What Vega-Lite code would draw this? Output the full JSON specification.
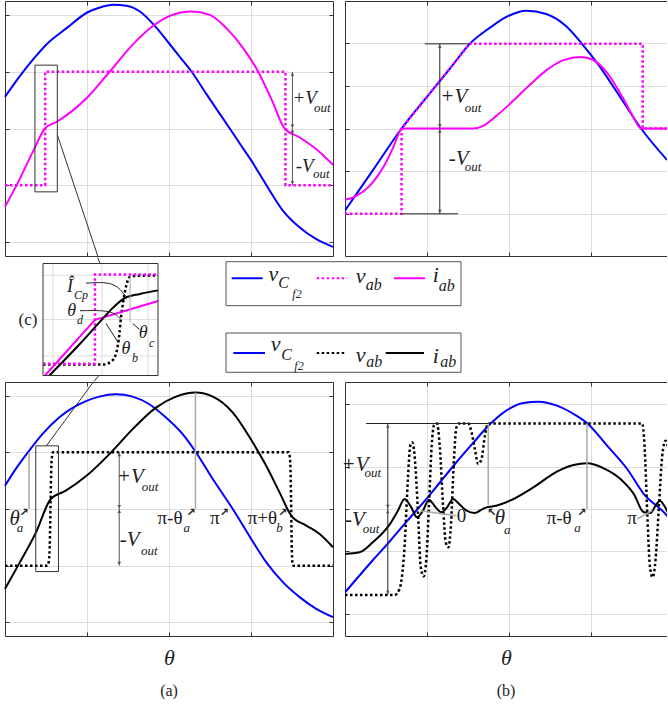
{
"$schema":"https://vega.github.io/schema/vega-lite/v6.json",
"padding":{"left":0,"top":0,"right":0,"bottom":0},
"background":"white",
"config":{
  "view":{"stroke":null},
  "axis":{"tickSize":-4,"domainColor":"#333333","tickColor":"#333333","gridColor":"#dddddd","domainWidth":1,"tickWidth":1,"labels":false},
  "title":{"font":"Liberation Serif","fontWeight":"normal","fontSize":17,"color":"#222222"}
},
"spacing":-1,
"vconcat":[
 {"hconcat":[
  {"width":328,"height":255,"data":{"name":"tl"},
   "encoding":{"x":{"field":"x","type":"quantitative","scale":{"domain":[0,4],"nice":false,"zero":false},"axis":null},
               "y":{"field":"y","type":"quantitative","scale":{"domain":[-2.25,2.25],"nice":false,"zero":false},"axis":null}},
   "layer":[
    {"transform":[{"filter":"datum.k=='vC'"}],"mark":{"type":"line","color":"#0000ff","strokeWidth":2,"interpolate":"monotone"},
     "encoding":{"order":{"value":null},
      "x":{"field":"x","type":"quantitative","scale":{"domain":[0,4],"nice":false,"zero":false},"axis":{"orient":"bottom","values":[1,2,3],"grid":true,"title":null}},
      "y":{"field":"y","type":"quantitative","scale":{"domain":[-2.25,2.25],"nice":false,"zero":false},"axis":{"orient":"left","values":[-2,-1,0,1,2],"grid":true,"title":null}}}},
    {"transform":[{"filter":"datum.k=='vab'"}],"mark":{"type":"line","color":"#ff00ff","strokeWidth":2.5,"strokeDash":[2.5,2.5],"interpolate":"linear"},
     "encoding":{"order":{"value":null},
      "x":{"field":"x","type":"quantitative","scale":{"domain":[0,4],"nice":false,"zero":false},"axis":{"orient":"top","values":[1,2,3],"grid":false,"title":null}},
      "y":{"field":"y","type":"quantitative","scale":{"domain":[-2.25,2.25],"nice":false,"zero":false},"axis":{"orient":"right","values":[-2,-1,0,1,2],"grid":false,"title":null}}}},
    {"transform":[{"filter":"datum.k=='iab'"}],"mark":{"type":"line","color":"#ff00ff","strokeWidth":2,"interpolate":"monotone"},"encoding":{"order":{"value":null}}},
    {"transform":[{"filter":"datum.k=='rd'"}],"mark":{"type":"rule","color":"#555555","strokeWidth":1},"encoding":{"x2":{"field":"x2"},"y2":{"field":"y2"}}},
    {"transform":[{"filter":"datum.k=='hu'"}],"mark":{"type":"point","shape":"triangle-up","filled":true,"size":14,"color":"#555555","opacity":1},"encoding":{}},
    {"transform":[{"filter":"datum.k=='hd'"}],"mark":{"type":"point","shape":"triangle-down","filled":true,"size":14,"color":"#555555","opacity":1},"encoding":{}},
    {"transform":[{"filter":"datum.k=='box'"}],"mark":{"type":"rect","fillOpacity":0,"stroke":"#333333","strokeWidth":1},"encoding":{"x2":{"field":"x2"},"y2":{"field":"y2"}}},
    {"transform":[{"filter":"datum.k=='cn'"}],"mark":{"type":"rule","color":"#333333","strokeWidth":1},"encoding":{"x2":{"field":"x2"},"y2":{"field":"y2"}}},
    {"transform":[{"filter":"datum.k=='big'"}],"mark":{"type":"text","font":"Liberation Serif","fontStyle":"italic","fontSize":19,"align":"center","baseline":"middle","color":"#222222"},"encoding":{"text":{"field":"t"}}},
    {"transform":[{"filter":"datum.k=='sub'"}],"mark":{"type":"text","font":"Liberation Serif","fontStyle":"italic","fontSize":13,"align":"center","baseline":"middle","color":"#222222"},"encoding":{"text":{"field":"t"}}}
   ],
   "resolve":{"axis":{"x":"independent","y":"independent"}}
  },
  {"width":322,"height":255,"data":{"name":"tr"},
   "encoding":{"x":{"field":"x","type":"quantitative","scale":{"domain":[0,3.927],"nice":false,"zero":false},"axis":null},
               "y":{"field":"y","type":"quantitative","scale":{"domain":[-3,3],"nice":false,"zero":false},"axis":null}},
   "layer":[
    {"transform":[{"filter":"datum.k=='vC'"}],"mark":{"type":"line","color":"#0000ff","strokeWidth":2,"interpolate":"monotone","clip":true},
     "encoding":{"order":{"value":null},
      "x":{"field":"x","type":"quantitative","scale":{"domain":[0,3.927],"nice":false,"zero":false},"axis":{"orient":"bottom","values":[1,2,3],"grid":true,"title":null}},
      "y":{"field":"y","type":"quantitative","scale":{"domain":[-3,3],"nice":false,"zero":false},"axis":{"orient":"left","values":[-2,-1,0,1,2],"grid":true,"title":null}}}},
    {"transform":[{"filter":"datum.k=='vab'"}],"mark":{"type":"line","color":"#ff00ff","strokeWidth":2.5,"strokeDash":[2.5,2.5],"interpolate":"linear","clip":true},
     "encoding":{"order":{"value":null},
      "x":{"field":"x","type":"quantitative","scale":{"domain":[0,3.927],"nice":false,"zero":false},"axis":{"orient":"top","values":[1,2,3],"grid":false,"title":null}}}},
    {"transform":[{"filter":"datum.k=='iab'"}],"mark":{"type":"line","color":"#ff00ff","strokeWidth":2,"interpolate":"monotone","clip":true},"encoding":{"order":{"value":null}}},
    {"transform":[{"filter":"datum.k=='rl'"}],"mark":{"type":"rule","color":"#222222","strokeWidth":1},"encoding":{"x2":{"field":"x2"},"y2":{"field":"y2"}}},
    {"transform":[{"filter":"datum.k=='hu'"}],"mark":{"type":"point","shape":"triangle-up","filled":true,"size":14,"color":"#555555","opacity":1},"encoding":{}},
    {"transform":[{"filter":"datum.k=='hd'"}],"mark":{"type":"point","shape":"triangle-down","filled":true,"size":14,"color":"#555555","opacity":1},"encoding":{}},
    {"transform":[{"filter":"datum.k=='big'"}],"mark":{"type":"text","font":"Liberation Serif","fontStyle":"italic","fontSize":21,"align":"center","baseline":"middle","color":"#222222"},"encoding":{"text":{"field":"t"}}},
    {"transform":[{"filter":"datum.k=='sub'"}],"mark":{"type":"text","font":"Liberation Serif","fontStyle":"italic","fontSize":13,"align":"center","baseline":"middle","color":"#222222"},"encoding":{"text":{"field":"t"}}}
   ],
   "resolve":{"axis":{"x":"independent","y":"independent"}}
  }
 ],"spacing":12,"bounds":"flush"},
 {"hconcat":[
  {"width":38,"height":125,"data":{"values":[{"t":"(c)"}]},"mark":{"type":"text","font":"Liberation Serif","fontSize":17,"dx":4,"color":"#222222"},"encoding":{"text":{"field":"t","type":"nominal"}}},
  {"width":115,"height":125,"data":{"name":"ins"},
   "encoding":{"x":{"field":"x","type":"quantitative","scale":{"domain":[0,1],"nice":false,"zero":false},"axis":null},
               "y":{"field":"y","type":"quantitative","scale":{"domain":[-1.116,1.116],"nice":false,"zero":false},"axis":null}},
   "layer":[
    {"transform":[{"filter":"datum.k=='grid'"}],"mark":{"type":"rule","color":"#dddddd","strokeWidth":1},"encoding":{"x2":{"field":"x2"},"y2":{"field":"y2"}}},
    {"transform":[{"filter":"datum.k=='bvab'"}],"mark":{"type":"line","color":"#000000","strokeWidth":2.5,"strokeDash":[2.5,2.5],"interpolate":"monotone"},"encoding":{"order":{"value":null}}},
    {"transform":[{"filter":"datum.k=='vab'"}],"mark":{"type":"line","color":"#ff00ff","strokeWidth":2.5,"strokeDash":[2.5,2.5],"interpolate":"linear"},"encoding":{"order":{"value":null}}},
    {"transform":[{"filter":"datum.k=='iab'"}],"mark":{"type":"line","color":"#ff00ff","strokeWidth":2,"interpolate":"linear"},"encoding":{"order":{"value":null}}},
    {"transform":[{"filter":"datum.k=='biab'"}],"mark":{"type":"line","color":"#000000","strokeWidth":2,"interpolate":"monotone"},"encoding":{"order":{"value":null}}},
    {"transform":[{"filter":"datum.k=='rg'"}],"mark":{"type":"rule","color":"#aaaaaa","strokeWidth":1},"encoding":{"x2":{"field":"x2"},"y2":{"field":"y2"}}},
    {"transform":[{"filter":"datum.k=='an'"}],"mark":{"type":"line","color":"#222222","strokeWidth":1,"interpolate":"basis"},"encoding":{"detail":{"field":"g","type":"nominal"},"order":{"value":null}}},
    {"transform":[{"filter":"datum.k=='box'"}],"mark":{"type":"rect","fillOpacity":0,"stroke":"#333333","strokeWidth":1},"encoding":{"x2":{"field":"x2"},"y2":{"field":"y2"}}},
    {"transform":[{"filter":"datum.k=='cn'"}],"mark":{"type":"rule","color":"#333333","strokeWidth":1},"encoding":{"x2":{"field":"x2"},"y2":{"field":"y2"}}},
    {"transform":[{"filter":"datum.k=='big'"}],"mark":{"type":"text","font":"Liberation Serif","fontStyle":"italic","fontSize":18,"align":"center","baseline":"middle","color":"#222222"},"encoding":{"text":{"field":"t"}}},
    {"transform":[{"filter":"datum.k=='sub'"}],"mark":{"type":"text","font":"Liberation Serif","fontStyle":"italic","fontSize":12,"align":"center","baseline":"middle","color":"#222222"},"encoding":{"text":{"field":"t"}}}
   ]
  },
  {"width":303,"height":125,"data":{"name":"lg"},
   "encoding":{"x":{"field":"x","type":"quantitative","scale":{"domain":[-68,235],"nice":false,"zero":false},"axis":null},
               "y":{"field":"y","type":"quantitative","scale":{"domain":[0,125],"nice":false,"zero":false,"reverse":true},"axis":null}},
   "layer":[
    {"transform":[{"filter":"datum.k=='box'"}],"mark":{"type":"rect","fillOpacity":0,"stroke":"#555555","strokeWidth":1},"encoding":{"x2":{"field":"x2"},"y2":{"field":"y2"}}},
    {"transform":[{"filter":"datum.k=='ln'"}],"mark":{"type":"rule","strokeWidth":2},
     "encoding":{"x2":{"field":"x2"},
      "color":{"field":"s","type":"nominal","scale":{"domain":["vC","vab","iab","bvab","biab"],"range":["#0000ff","#ff00ff","#ff00ff","#000000","#000000"]},"legend":null},
      "strokeDash":{"field":"s","type":"nominal","scale":{"domain":["vC","vab","iab","bvab","biab"],"range":[[1,0],[2.5,2.5],[1,0],[2.5,2.5],[1,0]]},"legend":null}}},
    {"transform":[{"filter":"datum.k=='m'"}],"mark":{"type":"text","font":"Liberation Serif","fontStyle":"italic","fontSize":22,"align":"center","baseline":"middle","color":"#222222"},"encoding":{"text":{"field":"t"}}},
    {"transform":[{"filter":"datum.k=='s1'"}],"mark":{"type":"text","font":"Liberation Serif","fontStyle":"italic","fontSize":16,"align":"center","baseline":"middle","color":"#222222"},"encoding":{"text":{"field":"t"}}},
    {"transform":[{"filter":"datum.k=='s2'"}],"mark":{"type":"text","font":"Liberation Serif","fontStyle":"italic","fontSize":12,"align":"center","baseline":"middle","color":"#222222"},"encoding":{"text":{"field":"t"}}}
   ]
  }
 ],"spacing":0,"bounds":"flush"},
 {"hconcat":[
  {"width":328,"height":254,"data":{"name":"bl"},
   "title":{"text":"(a)","orient":"bottom","offset":14,"fontSize":16},
   "encoding":{"x":{"field":"x","type":"quantitative","scale":{"domain":[0,4],"nice":false,"zero":false},"axis":null},
               "y":{"field":"y","type":"quantitative","scale":{"domain":[-2.24,2.24],"nice":false,"zero":false},"axis":null}},
   "layer":[
    {"transform":[{"filter":"datum.k=='vC'"}],"mark":{"type":"line","color":"#0000ff","strokeWidth":2,"interpolate":"monotone"},
     "encoding":{"order":{"value":null},
      "x":{"field":"x","type":"quantitative","scale":{"domain":[0,4],"nice":false,"zero":false},"axis":{"orient":"bottom","values":[1,2,3],"grid":true,"title":"θ","titleFont":"Liberation Serif","titleFontStyle":"italic","titleFontSize":22,"titleFontWeight":"normal","titleColor":"#222222","titlePadding":11}},
      "y":{"field":"y","type":"quantitative","scale":{"domain":[-2.24,2.24],"nice":false,"zero":false},"axis":{"orient":"left","values":[-2,-1,0,1,2],"grid":true,"title":null}}}},
    {"transform":[{"filter":"datum.k=='vab'"}],"mark":{"type":"line","color":"#000000","strokeWidth":2.5,"strokeDash":[2.5,2.5],"interpolate":"monotone"},
     "encoding":{"order":{"value":null},
      "x":{"field":"x","type":"quantitative","scale":{"domain":[0,4],"nice":false,"zero":false},"axis":{"orient":"top","values":[1,2,3],"grid":false,"title":null}},
      "y":{"field":"y","type":"quantitative","scale":{"domain":[-2.24,2.24],"nice":false,"zero":false},"axis":{"orient":"right","values":[-2,-1,0,1,2],"grid":false,"title":null}}}},
    {"transform":[{"filter":"datum.k=='iab'"}],"mark":{"type":"line","color":"#000000","strokeWidth":2,"interpolate":"monotone"},"encoding":{"order":{"value":null}}},
    {"transform":[{"filter":"datum.k=='rg'"}],"mark":{"type":"rule","color":"#aaaaaa","strokeWidth":1.5},"encoding":{"x2":{"field":"x2"},"y2":{"field":"y2"}}},
    {"transform":[{"filter":"datum.k=='rd'"}],"mark":{"type":"rule","color":"#555555","strokeWidth":1},"encoding":{"x2":{"field":"x2"},"y2":{"field":"y2"}}},
    {"transform":[{"filter":"datum.k=='hu'"}],"mark":{"type":"point","shape":"triangle-up","filled":true,"size":14,"color":"#555555","opacity":1},"encoding":{}},
    {"transform":[{"filter":"datum.k=='hd'"}],"mark":{"type":"point","shape":"triangle-down","filled":true,"size":14,"color":"#555555","opacity":1},"encoding":{}},
    {"transform":[{"filter":"datum.k=='box'"}],"mark":{"type":"rect","fillOpacity":0,"stroke":"#333333","strokeWidth":1},"encoding":{"x2":{"field":"x2"},"y2":{"field":"y2"}}},
    {"transform":[{"filter":"datum.k=='cn'"}],"mark":{"type":"rule","color":"#333333","strokeWidth":1},"encoding":{"x2":{"field":"x2"},"y2":{"field":"y2"}}},
    {"transform":[{"filter":"datum.k=='big'"}],"mark":{"type":"text","font":"Liberation Serif","fontStyle":"italic","fontSize":21,"align":"center","baseline":"middle","color":"#222222"},"encoding":{"text":{"field":"t"}}},
    {"transform":[{"filter":"datum.k=='sub'"}],"mark":{"type":"text","font":"Liberation Serif","fontStyle":"italic","fontSize":13,"align":"center","baseline":"middle","color":"#222222"},"encoding":{"text":{"field":"t"}}},
    {"transform":[{"filter":"datum.k=='pi'"}],"mark":{"type":"text","font":"Liberation Serif","fontSize":19,"align":"center","baseline":"middle","color":"#222222"},"encoding":{"text":{"field":"t"}}},
    {"transform":[{"filter":"datum.k=='arr'"}],"mark":{"type":"text","font":"DejaVu Sans","fontSize":11,"fontWeight":"bold","align":"center","baseline":"middle","color":"#222222"},"encoding":{"text":{"field":"t"}}}
   ],
   "resolve":{"axis":{"x":"independent","y":"independent"}}
  },
  {"width":322,"height":254,"data":{"name":"br"},
   "title":{"text":"(b)","orient":"bottom","offset":14,"fontSize":16},
   "encoding":{"x":{"field":"x","type":"quantitative","scale":{"domain":[0,3.927],"nice":false,"zero":false},"axis":null},
               "y":{"field":"y","type":"quantitative","scale":{"domain":[-3,3],"nice":false,"zero":false},"axis":null}},
   "layer":[
    {"transform":[{"filter":"datum.k=='vC'"}],"mark":{"type":"line","color":"#0000ff","strokeWidth":2,"interpolate":"monotone","clip":true},
     "encoding":{"order":{"value":null},
      "x":{"field":"x","type":"quantitative","scale":{"domain":[0,3.927],"nice":false,"zero":false},"axis":{"orient":"bottom","values":[1,2,3],"grid":true,"title":"θ","titleFont":"Liberation Serif","titleFontStyle":"italic","titleFontSize":22,"titleFontWeight":"normal","titleColor":"#222222","titlePadding":11}},
      "y":{"field":"y","type":"quantitative","scale":{"domain":[-3,3],"nice":false,"zero":false},"axis":{"orient":"left","values":[-2.48,-1,0,1,2.48],"grid":true,"title":null}}}},
    {"transform":[{"filter":"datum.k=='vab'"}],"mark":{"type":"line","color":"#000000","strokeWidth":2.5,"strokeDash":[2.5,2.5],"interpolate":"monotone","clip":true},
     "encoding":{"order":{"value":null},
      "x":{"field":"x","type":"quantitative","scale":{"domain":[0,3.927],"nice":false,"zero":false},"axis":{"orient":"top","values":[1,2,3],"grid":false,"title":null}}}},
    {"transform":[{"filter":"datum.k=='iab'"}],"mark":{"type":"line","color":"#000000","strokeWidth":2,"interpolate":"monotone","clip":true},"encoding":{"order":{"value":null}}},
    {"transform":[{"filter":"datum.k=='rg'"}],"mark":{"type":"rule","color":"#aaaaaa","strokeWidth":1.5},"encoding":{"x2":{"field":"x2"},"y2":{"field":"y2"}}},
    {"transform":[{"filter":"datum.k=='rl'"}],"mark":{"type":"rule","color":"#222222","strokeWidth":1},"encoding":{"x2":{"field":"x2"},"y2":{"field":"y2"}}},
    {"transform":[{"filter":"datum.k=='hu'"}],"mark":{"type":"point","shape":"triangle-up","filled":true,"size":14,"color":"#555555","opacity":1},"encoding":{}},
    {"transform":[{"filter":"datum.k=='hd'"}],"mark":{"type":"point","shape":"triangle-down","filled":true,"size":14,"color":"#555555","opacity":1},"encoding":{}},
    {"transform":[{"filter":"datum.k=='big'"}],"mark":{"type":"text","font":"Liberation Serif","fontStyle":"italic","fontSize":21,"align":"center","baseline":"middle","color":"#222222"},"encoding":{"text":{"field":"t"}}},
    {"transform":[{"filter":"datum.k=='sub'"}],"mark":{"type":"text","font":"Liberation Serif","fontStyle":"italic","fontSize":13,"align":"center","baseline":"middle","color":"#222222"},"encoding":{"text":{"field":"t"}}},
    {"transform":[{"filter":"datum.k=='pi'"}],"mark":{"type":"text","font":"Liberation Serif","fontSize":19,"align":"center","baseline":"middle","color":"#222222"},"encoding":{"text":{"field":"t"}}},
    {"transform":[{"filter":"datum.k=='arr'"}],"mark":{"type":"text","font":"DejaVu Sans","fontSize":11,"fontWeight":"bold","align":"center","baseline":"middle","color":"#222222"},"encoding":{"text":{"field":"t"}}}
   ],
   "resolve":{"axis":{"x":"independent","y":"independent"}}
  }
 ],"spacing":12,"bounds":"flush"}
],
"datasets":{
 "tl":[
  {"k":"vC","x":0,"y":0.559},{"k":"vC","x":0.183,"y":0.929},{"k":"vC","x":0.345,"y":1.224},{"k":"vC","x":0.508,"y":1.488},{"k":"vC","x":0.751,"y":1.771},{"k":"vC","x":1.003,"y":2.047},{"k":"vC","x":1.157,"y":2.135},{"k":"vC","x":1.32,"y":2.182},{"k":"vC","x":1.482,"y":2.165},{"k":"vC","x":1.645,"y":2.065},{"k":"vC","x":1.827,"y":1.812},{"k":"vC","x":2.002,"y":1.5},{"k":"vC","x":2.132,"y":1.265},{"k":"vC","x":2.274,"y":1.006},{"k":"vC","x":2.457,"y":0.606},{"k":"vC","x":2.619,"y":0.259},{"k":"vC","x":2.741,"y":0},{"k":"vC","x":2.863,"y":-0.265},{"k":"vC","x":2.993,"y":-0.541},{"k":"vC","x":3.188,"y":-1.0},{"k":"vC","x":3.391,"y":-1.453},{"k":"vC","x":3.594,"y":-1.747},{"k":"vC","x":3.797,"y":-1.953},{"k":"vC","x":4,"y":-2.088},
  {"k":"vab","x":0,"y":-1},{"k":"vab","x":0.49,"y":-1},{"k":"vab","x":0.49,"y":1},{"k":"vab","x":3.42,"y":1},{"k":"vab","x":3.42,"y":-1},{"k":"vab","x":4,"y":-1},
  {"k":"iab","x":0,"y":-1.382},{"k":"iab","x":0.142,"y":-1.0},{"k":"iab","x":0.345,"y":-0.394},{"k":"iab","x":0.487,"y":0},{"k":"iab","x":0.638,"y":0.124},{"k":"iab","x":0.832,"y":0.324},{"k":"iab","x":1.003,"y":0.547},{"k":"iab","x":1.279,"y":1.006},{"k":"iab","x":1.563,"y":1.488},{"k":"iab","x":1.807,"y":1.812},{"k":"iab","x":2.01,"y":1.988},{"k":"iab","x":2.274,"y":2.065},{"k":"iab","x":2.497,"y":2.006},{"k":"iab","x":2.7,"y":1.771},{"k":"iab","x":2.904,"y":1.418},{"k":"iab","x":3.086,"y":1.006},{"k":"iab","x":3.249,"y":0.518},{"k":"iab","x":3.411,"y":0},{"k":"iab","x":3.594,"y":-0.159},{"k":"iab","x":3.797,"y":-0.365},{"k":"iab","x":4,"y":-0.641},
  {"k":"rd","x":3.505,"y":1,"x2":3.505,"y2":-1},
  {"k":"hu","x":3.505,"y":0.96},{"k":"hu","x":3.505,"y":-0.04},{"k":"hd","x":3.505,"y":0.04},{"k":"hd","x":3.505,"y":-0.96},
  {"k":"box","x":0.365,"y":1.118,"x2":0.638,"y2":-1.118},
  {"k":"cn","x":0.638,"y":-0.112,"x2":1.131,"y2":-2.25},
  {"k":"big","t":"+V","x":3.655,"y":0.547},{"k":"big","t":"-V","x":3.655,"y":-0.659},
  {"k":"sub","t":"out","x":3.87,"y":0.37},{"k":"sub","t":"out","x":3.858,"y":-0.806}
 ],
 "tr":[
  {"k":"vC","x":0,"y":-1.93},{"k":"vC","x":0.345,"y":-0.969},{"k":"vC","x":0.69,"y":0},{"k":"vC","x":1.034,"y":0.828},{"k":"vC","x":1.278,"y":1.406},{"k":"vC","x":1.521,"y":1.992},{"k":"vC","x":1.765,"y":2.367},{"k":"vC","x":1.968,"y":2.625},{"k":"vC","x":2.211,"y":2.773},{"k":"vC","x":2.454,"y":2.695},{"k":"vC","x":2.698,"y":2.406},{"k":"vC","x":2.88,"y":2.016},{"k":"vC","x":3.103,"y":1.469},{"k":"vC","x":3.347,"y":0.766},{"k":"vC","x":3.611,"y":0},{"k":"vC","x":3.927,"y":-0.74},
  {"k":"vab","x":0,"y":-2.008},{"k":"vab","x":0.69,"y":-2.008},{"k":"vab","x":0.69,"y":0},{"k":"vab","x":1.521,"y":1.992},{"k":"vab","x":3.631,"y":1.992},{"k":"vab","x":3.631,"y":0},{"k":"vab","x":3.927,"y":0},
  {"k":"iab","x":0,"y":-1.68},{"k":"iab","x":0.122,"y":-1.602},{"k":"iab","x":0.304,"y":-1.344},{"k":"iab","x":0.467,"y":-0.914},{"k":"iab","x":0.588,"y":-0.445},{"k":"iab","x":0.69,"y":-0.016},{"k":"iab","x":0.73,"y":0},{"k":"iab","x":1.562,"y":0},{"k":"iab","x":1.684,"y":0.063},{"k":"iab","x":1.846,"y":0.297},{"k":"iab","x":2.049,"y":0.648},{"k":"iab","x":2.252,"y":1.023},{"k":"iab","x":2.454,"y":1.367},{"k":"iab","x":2.657,"y":1.602},{"k":"iab","x":2.88,"y":1.68},{"k":"iab","x":3.022,"y":1.617},{"k":"iab","x":3.185,"y":1.336},{"k":"iab","x":3.387,"y":0.727},{"k":"iab","x":3.509,"y":0.297},{"k":"iab","x":3.611,"y":0},{"k":"iab","x":3.927,"y":0},
  {"k":"rl","x":0.974,"y":1.992,"x2":1.521,"y2":1.992},{"k":"rl","x":0.69,"y":-2.008,"x2":1.379,"y2":-2.008},{"k":"rl","x":1.156,"y":1.992,"x2":1.156,"y2":-2.008},
  {"k":"hu","x":1.156,"y":1.93},{"k":"hu","x":1.156,"y":-0.06},{"k":"hd","x":1.156,"y":0.06},{"k":"hd","x":1.156,"y":-1.95},
  {"k":"big","t":"+V","x":1.327,"y":0.742},{"k":"big","t":"-V","x":1.387,"y":-0.719},
  {"k":"sub","t":"out","x":1.562,"y":0.492},{"k":"sub","t":"out","x":1.562,"y":-0.914}
 ],
 "ins":[
  {"k":"grid","x":0.087,"y":-1,"x2":0.087,"y2":1},{"k":"grid","x":0.513,"y":-1,"x2":0.513,"y2":1},{"k":"grid","x":0.913,"y":-1,"x2":0.913,"y2":1},
  {"k":"grid","x":0,"y":0.79,"x2":1,"y2":0.79},{"k":"grid","x":0,"y":0,"x2":1,"y2":0},{"k":"grid","x":0,"y":-0.65,"x2":1,"y2":-0.65},
  {"k":"vab","x":0,"y":-0.79},{"k":"vab","x":0.452,"y":-0.79},{"k":"vab","x":0.452,"y":0.805},{"k":"vab","x":1,"y":0.805},
  {"k":"iab","x":0.017,"y":-1},{"k":"iab","x":0.452,"y":-0.005},{"k":"iab","x":1,"y":0.33},
  {"k":"bvab","x":0,"y":-0.805},{"k":"bvab","x":0.524,"y":-0.805},{"k":"bvab","x":0.597,"y":-0.745},{"k":"bvab","x":0.641,"y":-0.565},{"k":"bvab","x":0.664,"y":-0.264},{"k":"bvab","x":0.678,"y":0.036},{"k":"bvab","x":0.699,"y":0.336},{"k":"bvab","x":0.728,"y":0.637},{"k":"bvab","x":0.763,"y":0.775},{"k":"bvab","x":1,"y":0.787},
  {"k":"biab","x":0.055,"y":-1},{"k":"biab","x":0.322,"y":-0.432},{"k":"biab","x":0.524,"y":0.024},{"k":"biab","x":0.612,"y":0.216},{"k":"biab","x":0.67,"y":0.324},{"k":"biab","x":0.713,"y":0.384},{"k":"biab","x":0.843,"y":0.456},{"k":"biab","x":1,"y":0.52},
  {"k":"rg","x":0.757,"y":0.787,"x2":0.757,"y2":-0.054},
  {"k":"an","g":1,"x":0.374,"y":0.649},{"k":"an","g":1,"x":0.62,"y":0.68},{"k":"an","g":1,"x":0.713,"y":0.427},
  {"k":"an","g":2,"x":0.322,"y":0.156},{"k":"an","g":2,"x":0.6,"y":0.17},{"k":"an","g":2,"x":0.675,"y":0.006},
  {"k":"an","g":3,"x":0.655,"y":-0.414},{"k":"an","g":3,"x":0.548,"y":-0.072},
  {"k":"an","g":4,"x":0.838,"y":-0.174},{"k":"an","g":4,"x":0.78,"y":-0.072},
  {"k":"box","x":0,"y":-1,"x2":1,"y2":1},
  {"k":"cn","x":0.476,"y":1.105,"x2":0.496,"y2":1},{"k":"cn","x":0.444,"y":-1.105,"x2":0.486,"y2":-1},
  {"k":"big","t":"Î","x":0.235,"y":0.577},{"k":"big","t":"θ","x":0.249,"y":0.156},{"k":"big","t":"θ","x":0.722,"y":-0.535},{"k":"big","t":"θ","x":0.872,"y":-0.234},
  {"k":"sub","t":"Cp","x":0.33,"y":0.444},{"k":"sub","t":"d","x":0.322,"y":-0.012},{"k":"sub","t":"b","x":0.8,"y":-0.685},{"k":"sub","t":"c","x":0.945,"y":-0.414}
 ],
 "lg":[
  {"k":"box","x":0,"x2":235,"y":4.7,"y2":48.7},{"k":"box","x":0,"x2":235,"y":76,"y2":115.3},
  {"k":"ln","s":"vC","x":5.7,"x2":36.7,"y":21.3},{"k":"ln","s":"vab","x":90.7,"x2":121.3,"y":21.3},{"k":"ln","s":"iab","x":168,"x2":199,"y":21.3},
  {"k":"m","t":"v","x":47.3,"y":16.7},{"k":"s1","t":"C","x":57.7,"y":26.3},{"k":"s2","t":"f2","x":71,"y":37.3},
  {"k":"m","t":"v","x":134.7,"y":18.7},{"k":"s1","t":"ab","x":147.7,"y":28},
  {"k":"m","t":"i","x":209.7,"y":18},{"k":"s1","t":"ab","x":220.7,"y":28.7},
  {"k":"ln","s":"vC","x":7.3,"x2":39,"y":96},{"k":"ln","s":"bvab","x":90.7,"x2":119,"y":96},{"k":"ln","s":"biab","x":159.7,"x2":198,"y":96},
  {"k":"m","t":"v","x":49.7,"y":86.7},{"k":"s1","t":"C","x":60.7,"y":98},{"k":"s2","t":"f2","x":73,"y":108.7},
  {"k":"m","t":"v","x":134.7,"y":98},{"k":"s1","t":"ab","x":148.3,"y":105.3},
  {"k":"m","t":"i","x":209.7,"y":98.7},{"k":"s1","t":"ab","x":222.3,"y":105.3}
 ],
 "bl":[
  {"k":"vC","x":0,"y":0.411},{"k":"vC","x":0.13,"y":0.704},{"k":"vC","x":0.293,"y":1.026},{"k":"vC","x":0.456,"y":1.32},{"k":"vC","x":0.66,"y":1.613},{"k":"vC","x":0.994,"y":1.906},{"k":"vC","x":1.149,"y":1.982},{"k":"vC","x":1.352,"y":2.023},{"k":"vC","x":1.556,"y":1.982},{"k":"vC","x":1.76,"y":1.848},{"k":"vC","x":1.963,"y":1.613},{"k":"vC","x":2.167,"y":1.32},{"k":"vC","x":2.33,"y":0.997},{"k":"vC","x":2.534,"y":0.528},{"k":"vC","x":2.778,"y":0},{"k":"vC","x":3.002,"y":-0.528},{"k":"vC","x":3.185,"y":-0.938},{"k":"vC","x":3.389,"y":-1.29},{"k":"vC","x":3.593,"y":-1.554},{"k":"vC","x":3.796,"y":-1.76},{"k":"vC","x":4,"y":-1.906},
  {"k":"vab","x":0,"y":-1},{"k":"vab","x":0.517,"y":-1},{"k":"vab","x":0.535,"y":-0.92},{"k":"vab","x":0.548,"y":-0.5},{"k":"vab","x":0.558,"y":0.3},{"k":"vab","x":0.568,"y":0.85},{"k":"vab","x":0.585,"y":1},{"k":"vab","x":3.462,"y":1},{"k":"vab","x":3.478,"y":0.85},{"k":"vab","x":3.488,"y":0.2},{"k":"vab","x":3.496,"y":-0.6},{"k":"vab","x":3.505,"y":-0.95},{"k":"vab","x":3.52,"y":-1},{"k":"vab","x":4,"y":-1},
  {"k":"iab","x":0,"y":-1.408},{"k":"iab","x":0.171,"y":-0.968},{"k":"iab","x":0.375,"y":-0.422},{"k":"iab","x":0.558,"y":0.176},{"k":"iab","x":0.741,"y":0.323},{"k":"iab","x":0.994,"y":0.587},{"k":"iab","x":1.312,"y":1.026},{"k":"iab","x":1.556,"y":1.408},{"k":"iab","x":1.841,"y":1.789},{"k":"iab","x":2.086,"y":1.982},{"k":"iab","x":2.322,"y":2.053},{"k":"iab","x":2.534,"y":1.982},{"k":"iab","x":2.778,"y":1.701},{"k":"iab","x":3.022,"y":1.173},{"k":"iab","x":3.185,"y":0.762},{"k":"iab","x":3.348,"y":0.293},{"k":"iab","x":3.491,"y":-0.117},{"k":"iab","x":3.674,"y":-0.293},{"k":"iab","x":3.837,"y":-0.44},{"k":"iab","x":4,"y":-0.674},
  {"k":"rg","x":0.293,"y":1,"x2":0.293,"y2":0},{"k":"rg","x":2.322,"y":2.053,"x2":2.322,"y2":0},
  {"k":"rd","x":1.393,"y":1,"x2":1.393,"y2":-1},
  {"k":"hu","x":1.393,"y":0.96},{"k":"hu","x":1.393,"y":-0.04},{"k":"hd","x":1.393,"y":0.04},{"k":"hd","x":1.393,"y":-0.96},
  {"k":"box","x":0.375,"y":1.114,"x2":0.652,"y2":-1.103},
  {"k":"cn","x":0.505,"y":1.114,"x2":1.077,"y2":2.24},
  {"k":"big","t":"+V","x":1.527,"y":0.563},{"k":"big","t":"-V","x":1.519,"y":-0.54},{"k":"big","t":"θ","x":0.118,"y":-0.176},
  {"k":"sub","t":"out","x":1.768,"y":0.381},{"k":"sub","t":"out","x":1.76,"y":-0.745},{"k":"sub","t":"a","x":0.183,"y":-0.34},{"k":"sub","t":"a","x":2.216,"y":-0.34},{"k":"sub","t":"b","x":3.348,"y":-0.34},
  {"k":"pi","t":"π-θ","x":2.012,"y":-0.164},{"k":"pi","t":"π","x":2.558,"y":-0.164},{"k":"pi","t":"π+θ","x":3.14,"y":-0.164},
  {"k":"arr","t":"↗","x":0.232,"y":-0.076},{"k":"arr","t":"↗","x":2.269,"y":-0.076},{"k":"arr","t":"↗","x":2.676,"y":-0.076},{"k":"arr","t":"↗","x":3.389,"y":-0.076}
 ],
 "br":[
  {"k":"vC","x":0,"y":-1.969},{"k":"vC","x":0.339,"y":-1.21},{"k":"vC","x":0.543,"y":-0.77},{"k":"vC","x":0.727,"y":-0.35},{"k":"vC","x":1.012,"y":0.28},{"k":"vC","x":1.155,"y":0.62},{"k":"vC","x":1.339,"y":1.057},{"k":"vC","x":1.563,"y":1.56},{"k":"vC","x":1.767,"y":2.0},{"k":"vC","x":1.971,"y":2.33},{"k":"vC","x":2.176,"y":2.504},{"k":"vC","x":2.359,"y":2.535},{"k":"vC","x":2.584,"y":2.441},{"k":"vC","x":2.788,"y":2.244},{"k":"vC","x":2.951,"y":2.031},{"k":"vC","x":3.196,"y":1.496},{"k":"vC","x":3.441,"y":0.945},{"k":"vC","x":3.645,"y":0.354},{"k":"vC","x":3.89,"y":-0.079},{"k":"vC","x":3.947,"y":-0.2},
  {"k":"vab","x":0,"y":-2.031},{"k":"vab","x":0.604,"y":-2.031},{"k":"vab","x":0.665,"y":-1.89},{"k":"vab","x":0.727,"y":-0.866},{"k":"vab","x":0.767,"y":0.709},{"k":"vab","x":0.796,"y":1.496},{"k":"vab","x":0.82,"y":1.575},{"k":"vab","x":0.849,"y":1.26},{"k":"vab","x":0.89,"y":-0.079},{"k":"vab","x":0.922,"y":-1.339},{"k":"vab","x":0.959,"y":-1.591},{"k":"vab","x":0.992,"y":-1.181},{"k":"vab","x":1.024,"y":0.079},{"k":"vab","x":1.057,"y":1.496},{"k":"vab","x":1.086,"y":1.98},{"k":"vab","x":1.122,"y":2.02},{"k":"vab","x":1.155,"y":1.496},{"k":"vab","x":1.196,"y":0.079},{"k":"vab","x":1.229,"y":-0.787},{"k":"vab","x":1.261,"y":-0.906},{"k":"vab","x":1.294,"y":-0.315},{"k":"vab","x":1.327,"y":1.102},{"k":"vab","x":1.359,"y":1.929},{"k":"vab","x":1.392,"y":2.02},{"k":"vab","x":1.502,"y":2.02},{"k":"vab","x":1.543,"y":1.811},{"k":"vab","x":1.584,"y":1.417},{"k":"vab","x":1.624,"y":1.063},{"k":"vab","x":1.665,"y":1.181},{"k":"vab","x":1.706,"y":1.732},{"k":"vab","x":1.747,"y":2.02},{"k":"vab","x":3.624,"y":2.02},{"k":"vab","x":3.653,"y":1.496},{"k":"vab","x":3.686,"y":-0.079},{"k":"vab","x":3.718,"y":-1.339},{"k":"vab","x":3.751,"y":-1.614},{"k":"vab","x":3.788,"y":-1.181},{"k":"vab","x":3.829,"y":0.079},{"k":"vab","x":3.869,"y":1.26},{"k":"vab","x":3.91,"y":1.614},{"k":"vab","x":3.947,"y":1.378},
  {"k":"iab","x":0,"y":-1.063},{"k":"iab","x":0.176,"y":-1.024},{"k":"iab","x":0.339,"y":-0.787},{"k":"iab","x":0.543,"y":-0.37},{"k":"iab","x":0.645,"y":-0.039},{"k":"iab","x":0.727,"y":0.236},{"k":"iab","x":0.808,"y":0.039},{"k":"iab","x":0.878,"y":-0.197},{"k":"iab","x":0.951,"y":-0.039},{"k":"iab","x":1.024,"y":0.22},{"k":"iab","x":1.106,"y":0.039},{"k":"iab","x":1.176,"y":-0.079},{"k":"iab","x":1.245,"y":0.039},{"k":"iab","x":1.318,"y":0.236},{"k":"iab","x":1.392,"y":0.118},{"k":"iab","x":1.482,"y":-0.039},{"k":"iab","x":1.584,"y":-0.094},{"k":"iab","x":1.665,"y":-0.016},{"k":"iab","x":1.727,"y":0.039},{"k":"iab","x":1.808,"y":0.063},{"k":"iab","x":2.012,"y":0.197},{"k":"iab","x":2.298,"y":0.512},{"k":"iab","x":2.584,"y":0.882},{"k":"iab","x":2.788,"y":1.039},{"k":"iab","x":2.951,"y":1.079},{"k":"iab","x":3.155,"y":0.961},{"k":"iab","x":3.359,"y":0.709},{"k":"iab","x":3.522,"y":0.354},{"k":"iab","x":3.645,"y":-0.079},{"k":"iab","x":3.727,"y":-0.094},{"k":"iab","x":3.788,"y":0.079},{"k":"iab","x":3.841,"y":0.197},{"k":"iab","x":3.898,"y":0.063},{"k":"iab","x":3.947,"y":-0.118},
  {"k":"rl","x":0.257,"y":2.02,"x2":1.747,"y2":2.02},{"k":"rl","x":0.522,"y":2.02,"x2":0.522,"y2":-2.03},
  {"k":"rg","x":1.747,"y":2.02,"x2":1.747,"y2":0.1},{"k":"rg","x":2.951,"y":2.02,"x2":2.951,"y2":0},{"k":"rg","x":1.359,"y":-0.157,"x2":0.92,"y2":-0.04},{"k":"rg","x":3.563,"y":-0.236,"x2":3.747,"y2":-0.039},
  {"k":"hu","x":0.522,"y":1.96},{"k":"hu","x":0.522,"y":-0.06},{"k":"hd","x":0.522,"y":0.06},{"k":"hd","x":0.522,"y":-1.97},
  {"k":"big","t":"+V","x":0.122,"y":1.047},{"k":"big","t":"-V","x":0.122,"y":-0.252},{"k":"big","t":"θ","x":1.89,"y":-0.22},
  {"k":"sub","t":"out","x":0.339,"y":0.843},{"k":"sub","t":"out","x":0.318,"y":-0.472},{"k":"sub","t":"a","x":1.98,"y":-0.5},{"k":"sub","t":"a","x":2.837,"y":-0.457},
  {"k":"pi","t":"π-θ","x":2.612,"y":-0.22},{"k":"pi","t":"π","x":3.502,"y":-0.22},{"k":"pi","t":"0","x":1.42,"y":-0.173},
  {"k":"arr","t":"↗","x":2.89,"y":-0.094},{"k":"arr","t":"↖","x":1.788,"y":-0.094}
 ]
}
}
